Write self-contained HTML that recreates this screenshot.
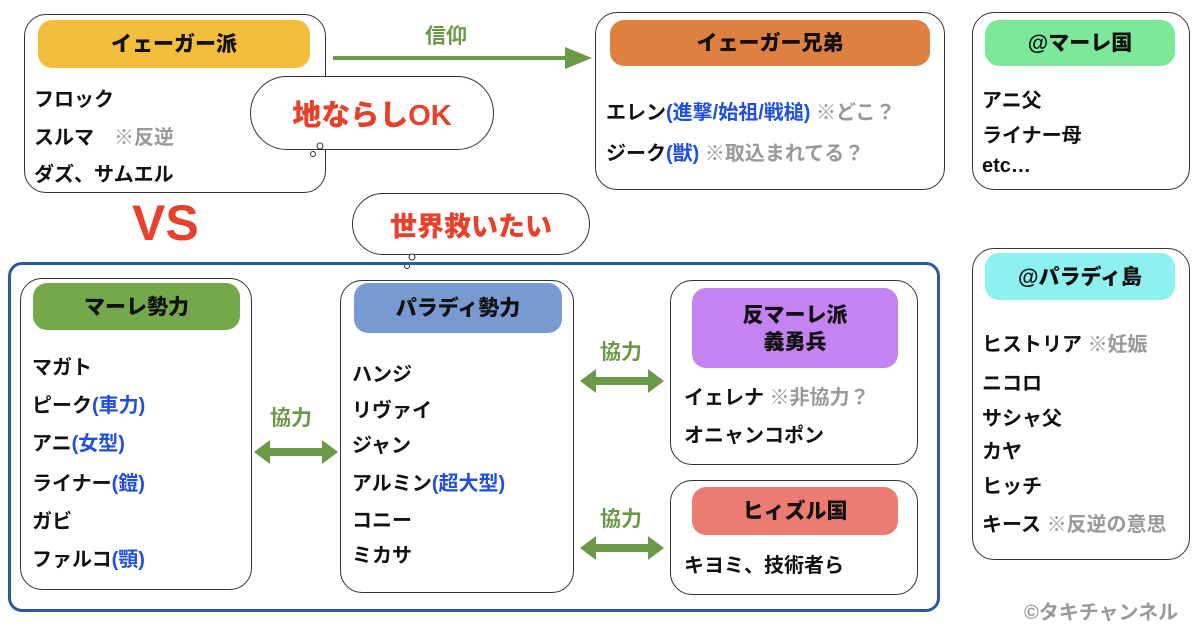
<!DOCTYPE html>
<html><head><meta charset="utf-8"><style>
*{margin:0;padding:0;box-sizing:border-box}
body{width:1200px;height:630px;background:#fff;position:relative;overflow:hidden;font-family:"Liberation Sans","Noto Sans CJK JP",sans-serif;font-weight:bold;color:#111}
.box{position:absolute;border:1.5px solid #333;border-radius:22px;background:#fff}
.hd{position:absolute;border-radius:14px;display:flex;align-items:center;justify-content:center;font-size:21px;font-weight:900;text-align:center;line-height:1.25;padding-top:3px}
.t{position:absolute;font-size:20px;white-space:nowrap}
.b{color:#1f4fe0}.g{color:#999}
.lbl{position:absolute;color:#6a9a48;font-size:21px}
.bub{position:absolute;border:1.5px solid #333;border-radius:50%;background:#fff;display:flex;align-items:center;justify-content:center;color:#e8402a;font-size:29px;font-weight:900}
</style></head><body>
<div class="box" style="left:24px;top:14px;width:302px;height:179px"></div>
<div class="hd" style="left:38px;top:20px;width:272px;height:48px;background:#F2BE3C">イェーガー派</div>
<div class="t" style="left:34px;top:83px">フロック</div>
<div class="t" style="left:34px;top:121px">スルマ　<span class="g">※反逆</span></div>
<div class="t" style="left:34px;top:158px">ダズ、サムエル</div>

<div class="lbl" style="left:425px;top:20px">信仰</div>
<svg style="position:absolute;left:330px;top:44px" width="265" height="30"><line x1="3" y1="14" x2="238" y2="14" stroke="#6a9a48" stroke-width="4"/><polygon points="235,3 262,14 235,25" fill="#6a9a48"/></svg>

<div class="bub" style="left:250px;top:76px;width:244px;height:74px;border-radius:40px">地ならしOK</div>
<svg style="position:absolute;left:300px;top:140px" width="30" height="30"><circle cx="20" cy="6" r="3" fill="#fff" stroke="#333"/><circle cx="13" cy="14" r="2.5" fill="#fff" stroke="#333"/></svg>

<div class="box" style="left:595px;top:12px;width:350px;height:178px"></div>
<div class="hd" style="left:610px;top:20px;width:320px;height:46px;background:#E08040">イェーガー兄弟</div>
<div class="t" style="left:606px;top:96px">エレン<span class="b">(進撃/始祖/戦槌)</span> <span class="g">※どこ？</span></div>
<div class="t" style="left:606px;top:137px">ジーク<span class="b">(獣)</span> <span class="g">※取込まれてる？</span></div>

<div class="box" style="left:972px;top:12px;width:218px;height:178px"></div>
<div class="hd" style="left:985px;top:20px;width:190px;height:46px;background:#7DE89A">@マーレ国</div>
<div class="t" style="left:982px;top:84px">アニ父</div>
<div class="t" style="left:982px;top:119px">ライナー母</div>
<div class="t" style="left:982px;top:155px">etc…</div>

<div style="position:absolute;left:132px;top:194px;color:#e8402a;font-size:50px;font-weight:900;font-family:'Liberation Sans',sans-serif">VS</div>

<div class="bub" style="left:352px;top:193px;width:238px;height:62px;border-radius:32px;font-size:27px">世界救いたい</div>
<svg style="position:absolute;left:398px;top:250px" width="30" height="30"><circle cx="14" cy="7" r="3" fill="#fff" stroke="#333"/><circle cx="9" cy="16" r="2.5" fill="#fff" stroke="#333"/></svg>

<div style="position:absolute;left:8px;top:262px;width:932px;height:350px;border:3px solid #2b5a9a;border-radius:14px"></div>

<div class="box" style="left:20px;top:278px;width:232px;height:312px"></div>
<div class="hd" style="left:33px;top:283px;width:207px;height:47px;background:#75A84A">マーレ勢力</div>
<div class="t" style="left:32px;top:351px">マガト</div>
<div class="t" style="left:32px;top:389px">ピーク<span class="b">(車力)</span></div>
<div class="t" style="left:32px;top:427px">アニ<span class="b">(女型)</span></div>
<div class="t" style="left:32px;top:467px">ライナー<span class="b">(鎧)</span></div>
<div class="t" style="left:32px;top:505px">ガビ</div>
<div class="t" style="left:32px;top:543px">ファルコ<span class="b">(顎)</span></div>

<div class="lbl" style="left:270px;top:402px">協力</div>
<svg style="position:absolute;left:252px;top:437px" width="90" height="30"><polygon points="2,15 18,3 18,11 70,11 70,3 86,15 70,27 70,19 18,19 18,27" fill="#6a9a48"/></svg>

<div class="box" style="left:340px;top:280px;width:234px;height:313px"></div>
<div class="hd" style="left:354px;top:283px;width:208px;height:50px;background:#7899D2">パラディ勢力</div>
<div class="t" style="left:352px;top:358px">ハンジ</div>
<div class="t" style="left:352px;top:394px">リヴァイ</div>
<div class="t" style="left:352px;top:429px">ジャン</div>
<div class="t" style="left:352px;top:467px">アルミン<span class="b">(超大型)</span></div>
<div class="t" style="left:352px;top:504px">コニー</div>
<div class="t" style="left:352px;top:539px">ミカサ</div>

<div class="lbl" style="left:600px;top:336px">協力</div>
<svg style="position:absolute;left:578px;top:366px" width="90" height="30"><polygon points="2,15 18,3 18,11 70,11 70,3 86,15 70,27 70,19 18,19 18,27" fill="#6a9a48"/></svg>
<div class="lbl" style="left:600px;top:503px">協力</div>
<svg style="position:absolute;left:578px;top:533px" width="90" height="30"><polygon points="2,15 18,3 18,11 70,11 70,3 86,15 70,27 70,19 18,19 18,27" fill="#6a9a48"/></svg>

<div class="box" style="left:670px;top:280px;width:248px;height:185px"></div>
<div class="hd" style="left:692px;top:288px;width:206px;height:80px;background:#C483F0">反マーレ派<br>義勇兵</div>
<div class="t" style="left:684px;top:381px">イェレナ <span class="g">※非協力？</span></div>
<div class="t" style="left:684px;top:419px">オニャンコポン</div>

<div class="box" style="left:670px;top:480px;width:248px;height:115px"></div>
<div class="hd" style="left:692px;top:487px;width:206px;height:48px;background:#EE7B72">ヒィズル国</div>
<div class="t" style="left:684px;top:549px">キヨミ、技術者ら</div>

<div class="box" style="left:972px;top:248px;width:218px;height:312px"></div>
<div class="hd" style="left:985px;top:253px;width:190px;height:47px;background:#8FF0F0">@パラディ島</div>
<div class="t" style="left:982px;top:328px">ヒストリア <span class="g">※妊娠</span></div>
<div class="t" style="left:982px;top:367px">ニコロ</div>
<div class="t" style="left:982px;top:402px">サシャ父</div>
<div class="t" style="left:982px;top:435px">カヤ</div>
<div class="t" style="left:982px;top:470px">ヒッチ</div>
<div class="t" style="left:982px;top:508px">キース <span class="g">※反逆の意思</span></div>

<div style="position:absolute;left:1024px;top:596px;color:#999;font-size:20px">©タキチャンネル</div>
</body></html>
